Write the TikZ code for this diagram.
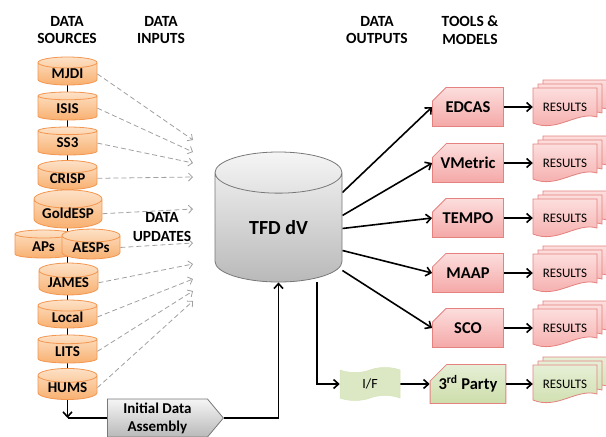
\documentclass[tikz,border=0pt]{standalone}
\usepackage{fontspec}
\setmainfont{Carlito}
\usetikzlibrary{shapes.geometric,shapes.misc,shapes.symbols,arrows.meta,backgrounds}

\definecolor{srctop}{RGB}{253,225,198}
\definecolor{srcbot}{RGB}{248,176,112}
\definecolor{srcline}{RGB}{243,150,80}
\definecolor{redtop}{RGB}{252,222,221}
\definecolor{redbot}{RGB}{244,168,167}
\definecolor{redline}{RGB}{228,130,128}
\definecolor{grntop}{RGB}{230,239,214}
\definecolor{grnbot}{RGB}{205,221,170}
\definecolor{graytop}{RGB}{245,245,245}
\definecolor{graybot}{RGB}{185,185,185}
\definecolor{grayline}{RGB}{120,120,120}
\definecolor{feedgray}{RGB}{160,160,160}

\tikzset{
  head/.style={font=\fontsize{15.5}{17.5}\selectfont\bfseries, align=center},
  src/.style={cylinder, shape border rotate=90, aspect=0.35, draw=srcline, line width=0.8pt,
    top color=srctop, bottom color=srcbot, minimum width=59pt, minimum height=28pt,
    inner sep=0pt, font=\fontsize{15}{15}\selectfont\bfseries, anchor=shape center},
  db/.style={cylinder, shape border rotate=90, aspect=0.7, draw=grayline, line width=0.8pt,
    top color=graytop, bottom color=graybot, minimum width=127pt, minimum height=130pt,
    inner sep=0pt, font=\fontsize{20}{20}\selectfont\bfseries, anchor=shape center},
  tool/.style={chamfered rectangle, chamfered rectangle corners=north west,
    chamfered rectangle xsep=11pt, chamfered rectangle ysep=8pt, draw=redline, line width=0.8pt,
    top color=redtop, bottom color=redbot, minimum width=71pt, minimum height=39pt,
    inner sep=0pt, font=\fontsize{16.5}{16.5}\selectfont\bfseries},
  reddoc/.style={draw=redline, line width=0.8pt, top color=redtop, bottom color=redbot},
  grndoc/.style={draw=redline, line width=0.8pt, top color=grntop, bottom color=grnbot},
  restext/.style={font=\fontsize{13}{13}\selectfont, inner sep=0pt, minimum width=64pt},
  conn/.style={line width=1.6pt, -{Straight Barb[length=5pt,width=9pt]}},
  feed/.style={draw=feedgray, line width=0.8pt, dash pattern=on 5pt off 3pt,
    -{Straight Barb[length=4pt,width=8pt]}},
}

% stack of three result sheets, front one named
\newcommand{\docshape}[3]{\draw[#3, shift={(#1,#2)}] (-32,-19) -- (32,-19) -- (32,10)
  .. controls (12,4) and (-8,26) .. (-32,16) -- cycle;}
\newcommand{\results}[4]{%
  \docshape{#2+10}{#3-8}{#4}
  \docshape{#2+5}{#3-4}{#4}
  \docshape{#2}{#3}{#4}
  \node[restext] (#1) at (#2,#3) {RESULTS};}

\begin{document}
\begin{tikzpicture}[x=1pt,y=-1pt]
  \useasboundingbox (0,0) rectangle (606,437);

  %%%%% HEADERS %%%%%
  \node[head] (hsrc) at (67,30) {DATA\\SOURCES};
  \node[head] (hin) at (161,30) {DATA\\INPUTS};
  \node[head] (hout) at (377,30) {DATA\\OUTPUTS};
  \node[head] (htool) at (470,30) {TOOLS \&\\MODELS};

  %%%%% SOURCES %%%%%
  \node[src] (mjdi) at (67.5,71) {MJDI};
  \node[src] (isis) at (67.5,106) {ISIS};
  \node[src] (ss3) at (67.5,141) {SS3};
  \node[src] (crisp) at (67.5,175) {CRISP};
  \node[src, minimum width=68pt] (gold) at (68,209) {GoldESP};
  \node[src, minimum width=57pt] (aps) at (43.5,244) {APs};
  \node[src, minimum width=58pt] (aesps) at (91,244) {AESPs};
  \node[src] (james) at (68.5,279) {JAMES};
  \node[src] (local) at (67.5,314) {Local};
  \node[src] (lits) at (67.5,349) {LITS};
  \node[src] (hums) at (67.5,384) {HUMS};

  \node[head, font=\fontsize{15.5}{18.5}\selectfont\bfseries] (upd) at (162,227) {DATA\\UPDATES};

  %%%%% CORE %%%%%
  \node[db] (tfd) at (278.5,217) {TFD dV};
  \node[signal, signal to=east, signal pointer angle=100, draw=grayline, line width=0.8pt,
    top color=graytop, bottom color=graybot, minimum width=116pt, minimum height=38pt,
    inner sep=0pt, align=center, anchor=west,
    font=\fontsize{15}{18}\selectfont\bfseries] (init) at (107,418) {Initial Data\\Assembly};
  \node[tape, fill=grntop!60!grnbot, draw=grntop!40!grnbot, line width=0.5pt,
    minimum width=60pt, minimum height=33pt, inner sep=0pt,
    font=\fontsize{14}{14}\selectfont] (if) at (370,384) {I/F};
  \coordinate (jn) at (67.5,418);

  %%%%% TOOLS %%%%%
  \node[tool] (edcas) at (468,107) {EDCAS};
  \node[tool] (vmetric) at (468,163) {VMetric};
  \node[tool] (tempo) at (468,218) {TEMPO};
  \node[tool] (maap) at (468,273) {MAAP};
  \node[tool] (sco) at (468,328) {SCO};
  \node[tool, top color=grntop, bottom color=grnbot] (third) at (468,384) {3\textsuperscript{rd} Party};

  \results{r1}{565}{107}{reddoc}
  \results{r2}{565}{163}{reddoc}
  \results{r3}{565}{218}{reddoc}
  \results{r4}{565}{273}{reddoc}
  \results{r5}{565}{328}{reddoc}
  \results{r6}{565}{384}{grndoc}

  %%%%% CONNECTORS %%%%%
  \begin{scope}[on background layer]
    \draw[line width=1.6pt] (mjdi.center) -- (hums.center);
    \draw[conn] (hums.south) -- (jn);
    \draw[line width=1.6pt] (jn) -- (init.west);
    \draw[conn] (init.east) -| (tfd.south);
    \draw[conn] ([xshift=38.5pt]tfd.south) |- (if.west);

    \draw[conn] ([yshift=35pt]tfd.east) -- (edcas.west);
    \draw[conn] ([yshift=12pt]tfd.east) -- (vmetric.west);
    \draw[conn] ([yshift=-1pt]tfd.east) -- (tempo.west);
    \draw[conn] ([yshift=-23pt]tfd.east) -- (maap.west);
    \draw[conn] ([yshift=-43pt]tfd.east) -- (sco.west);
    \draw[conn] (if.east) -- (third.west);

    \draw[feed] (mjdi.east) -- (193,140);
    \draw[feed] (isis.east) -- (193,152);
    \draw[feed] (ss3.east) -- (193,163);
    \draw[feed] (crisp.east) -- (193,177);
    \draw[feed] (gold.east) -- (193,209);
    \draw[feed] (aesps.east) -- (193,243);
    \draw[feed] (james.east) -- (193,264);
    \draw[feed] (local.east) -- (193,279);
    \draw[feed] (lits.east) -- (193,291);
    \draw[feed] (hums.east) -- (193,301);
  \end{scope}

  \draw[conn] (edcas.east) -- (r1.west);
  \draw[conn] (vmetric.east) -- (r2.west);
  \draw[conn] (tempo.east) -- (r3.west);
  \draw[conn] (maap.east) -- (r4.west);
  \draw[conn] (sco.east) -- (r5.west);
  \draw[conn] (third.east) -- (r6.west);
\end{tikzpicture}
\end{document}
